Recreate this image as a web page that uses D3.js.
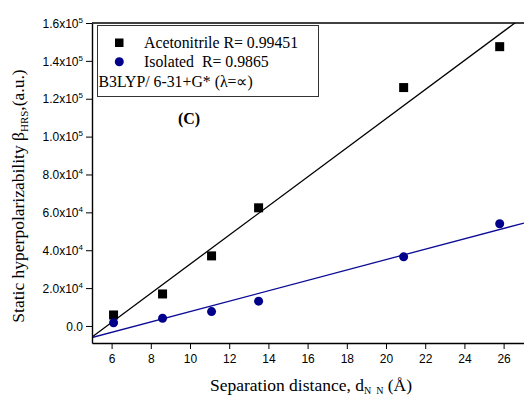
<!DOCTYPE html>
<html>
<meta charset="utf-8">
<title>beta vs distance</title>
<style>
html,body{ margin:0; background:#fff; }
svg { background-color:#fff; }
.tick text { font-family:"Liberation Sans", Arial, sans-serif; font-size:12px; fill:#000; }
.serif { font-family:"Liberation Serif", "Times New Roman", serif; fill:#000; }
</style>
<script src="https://cdn.jsdelivr.net/npm/d3@7"></script>
<body>
<script>

var dist = [6.1, 8.6, 11.1, 13.5, 20.9, 25.8];
var acetonitrile = [5800, 16900, 37000, 62400, 125900, 147500];
var isolated = [1700, 4100, 7600, 13100, 36500, 54000];
var xTicks = [6, 8, 10, 12, 14, 16, 18, 20, 22, 24, 26];
var yTicks = [0, 20000, 40000, 60000, 80000, 100000, 120000, 140000, 160000];

var width = 524, height = 398;
var plotL = 92, plotR = 524, plotT = 23, plotB = 343;

var x = d3.scaleLinear().domain([5, 27.04]).range([plotL, plotR]);
var y = d3.scaleLinear().domain([-9000, 160000]).range([plotB, plotT]);

var svg = d3.select("body").append("svg")
    .attr("width", width)
    .attr("height", height);

svg.append("defs").append("clipPath").attr("id", "clip")
  .append("rect").attr("x", plotL).attr("y", plotT)
  .attr("width", plotR - plotL).attr("height", plotB - plotT);

// least squares fit
function fit(xs, ys) {
  var mx = d3.mean(xs), my = d3.mean(ys);
  var sxy = d3.sum(xs, function(d, i){ return (d - mx) * (ys[i] - my); });
  var sxx = d3.sum(xs, function(d){ return (d - mx) * (d - mx); });
  var b = sxy / sxx;
  return function(v){ return my + b * (v - mx); };
}

var lineLayer = svg.append("g").attr("clip-path", "url(#clip)");
[[acetonitrile, "#000"], [isolated, "#0b0b96"]].forEach(function(s){
  var f = fit(dist, s[0]);
  lineLayer.append("line")
    .attr("x1", x(5)).attr("y1", y(f(5)))
    .attr("x2", x(27.04)).attr("y2", y(f(27.04)))
    .attr("stroke", s[1]).attr("stroke-width", 1.3);
});

// axes
var xAxis = svg.append("g")
    .attr("transform", "translate(0," + plotB + ")")
    .call(d3.axisBottom(x).tickValues(xTicks).tickSize(6).tickSizeOuter(0).tickPadding(5));
xAxis.select(".domain").attr("stroke-width", 1.4);

var yAxis = svg.append("g")
    .attr("transform", "translate(" + plotL + ",0)")
    .call(d3.axisLeft(y).tickValues(yTicks).tickSize(6).tickSizeOuter(0).tickFormat(function(){ return ""; }));
yAxis.select(".domain").attr("stroke-width", 1.4);

yAxis.selectAll(".tick").each(function(d){
  var t = d3.select(this).append("text")
      .attr("x", -9).attr("dy", "0.35em").attr("text-anchor", "end")
      .attr("fill", "#000");
  if (d === 0) { t.text("0.0"); return; }
  var e = Math.floor(Math.log10(d));
  var m = (d / Math.pow(10, e)).toFixed(1);
  t.append("tspan").text(m + "x10");
  t.append("tspan").attr("dy", "-5").attr("font-size", "8px").text(e);
});

// top frame line
svg.append("line")
  .attr("x1", plotL).attr("x2", plotR).attr("y1", plotT).attr("y2", plotT)
  .attr("stroke", "#000").attr("stroke-width", 1.4);

// points
svg.append("g").selectAll("rect")
  .data(dist)
  .enter().append("rect")
  .attr("x", function(d){ return x(d) - 4.5; })
  .attr("y", function(d, i){ return y(acetonitrile[i]) - 4.5; })
  .attr("width", 9).attr("height", 9)
  .attr("fill", "#000");

svg.append("g").selectAll("circle")
  .data(dist)
  .enter().append("circle")
  .attr("cx", function(d){ return x(d); })
  .attr("cy", function(d, i){ return y(isolated[i]); })
  .attr("r", 4.5)
  .attr("fill", "#00008b");

// legend
svg.append("rect")
  .attr("x", 97.5).attr("y", 25.5).attr("width", 221).attr("height", 71)
  .attr("fill", "#fff").attr("stroke", "#333").attr("stroke-width", 1);
svg.append("rect").attr("x", 115).attr("y", 38.5).attr("width", 8.5).attr("height", 8.5).attr("fill", "#000");
svg.append("circle").attr("cx", 119.3).attr("cy", 61.7).attr("r", 4.5).attr("fill", "#00008b");
svg.append("text").attr("class", "serif").attr("x", 144).attr("y", 48)
  .attr("font-size", "15.8px").text("Acetonitrile R= 0.99451");
svg.append("text").attr("class", "serif").attr("x", 144).attr("y", 67)
  .attr("font-size", "15.8px").style("white-space", "pre").text("Isolated  R= 0.9865");
svg.append("text").attr("class", "serif").attr("x", 98.5).attr("y", 86.5)
  .attr("font-size", "15.8px").text("B3LYP/ 6-31+G* (\u03bb=\u221d)");

svg.append("text").attr("class", "serif").attr("x", 189).attr("y", 124)
  .attr("text-anchor", "middle").attr("font-size", "16px").attr("font-weight", "bold").text("(C)");

// axis titles
var xt = svg.append("text").attr("class", "serif")
  .attr("x", 311).attr("y", 391).attr("text-anchor", "middle").attr("font-size", "17.5px");
xt.append("tspan").text("Separation distance, d");
xt.append("tspan").attr("dy", 3).attr("font-size", "10px").style("white-space", "pre").text("N  N");
xt.append("tspan").attr("dy", -3).text(" (\u00c5)");

var yt = svg.append("text").attr("class", "serif")
  .attr("transform", "translate(24,196) rotate(-90)")
  .attr("text-anchor", "middle").attr("font-size", "17.5px");
yt.append("tspan").text("Static hyperpolarizability \u03b2");
yt.append("tspan").attr("dy", 4).attr("font-size", "11px").text("HRS");
yt.append("tspan").attr("dy", -4).text(",(a.u.)");

</script>
</body>
</html>
